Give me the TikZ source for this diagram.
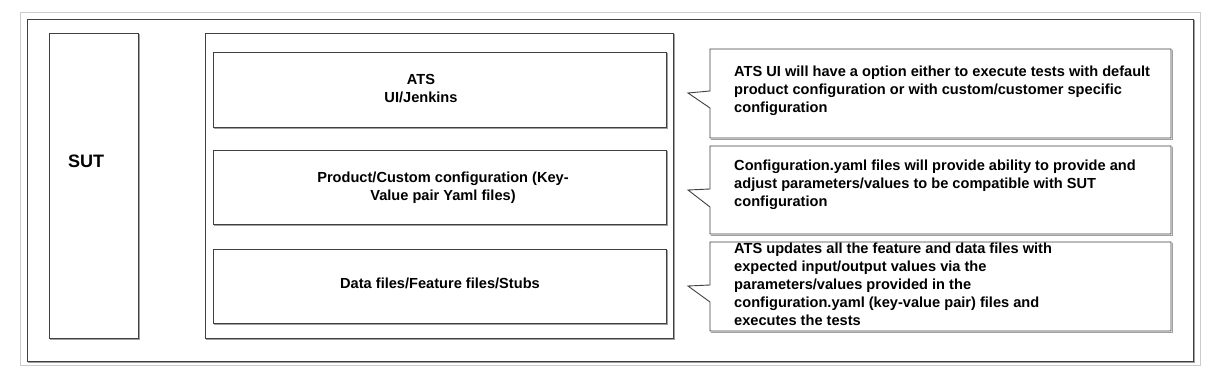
\documentclass[tikz,border=0pt]{standalone}
\usepackage{fontspec}
\setmainfont{Liberation Sans}
\usetikzlibrary{fit}
\definecolor{edgec}{HTML}{404040}
\definecolor{shadc}{HTML}{A0A0A0}
\definecolor{framec}{HTML}{CCCCCC}
\tikzset{
  box/.style={draw=edgec, line width=0.9pt, inner sep=0pt, fill=none},
  shad/.style={draw=shadc, line width=0.9pt},
  calloutline/.style={draw=edgec, line width=0.9pt, line join=miter},
  txt/.style={font=\fontsize{14.6}{18}\selectfont\bfseries, inner sep=0pt, text=black},
  bigtxt/.style={font=\fontsize{18}{22}\selectfont\bfseries, inner sep=0pt, text=black}
}
\newcommand{\boxshadow}[1]{%
  \draw[shad] ([shift={(1.2,1.2)}]#1.north east) -- ([shift={(1.2,1.2)}]#1.south east) -- ([shift={(1.2,1.2)}]#1.south west);}
\begin{document}
\begin{tikzpicture}[x=1pt,y=-1pt]
\useasboundingbox (0,0) rectangle (1230,387);
\fill[white] (0,0) rectangle (1230,387);
% outer frames
\node[draw=framec, line width=0.9pt, inner sep=0pt, fit={(20,12) (1200,365)}] (outer) {};
\node[box, fit={(27,19) (1193,361)}] (frame) {};
\boxshadow{frame}
% SUT
\node[box, fit={(49,33) (138,338)}] (sut) {};
\boxshadow{sut}
\node[bigtxt, anchor=base west] (suttxt) at (68,168) {SUT};
% container
\node[box, fit={(205,33) (673,338)}] (cont) {};
\boxshadow{cont}
\node[box, fit={(213,52) (666,127)}] (ats) {};
\boxshadow{ats}
\node[box, fit={(213,150) (666,224)}] (prod) {};
\boxshadow{prod}
\node[box, fit={(213,249) (666,323)}] (data) {};
\boxshadow{data}
\node[txt, align=center, anchor=base] (atstxt) at (421,103) {ATS\\UI/Jenkins};
\node[txt, align=center, anchor=base] (prodtxt) at (443,201) {Product/Custom configuration (Key-\\Value pair Yaml files)};
\node[txt, align=center, anchor=base] (datatxt) at (440,288) {Data files/Feature files/Stubs};
% callouts
\draw[shad] (1172.2,50) -- (1172.2,139.2) -- (711,139.2);
\draw[calloutline] (710,49) -- (1171,49) -- (1171,138) -- (710,138) -- (710,108) -- (688,93) -- (710,91) -- cycle;
\draw[shad] (1172.2,147) -- (1172.2,235.2) -- (711,235.2);
\draw[calloutline] (710,146) -- (1171,146) -- (1171,234) -- (710,234) -- (710,207) -- (688,190) -- (710,189) -- cycle;
\draw[shad] (1172.2,243) -- (1172.2,332.2) -- (711,332.2);
\draw[calloutline] (710,242) -- (1171,242) -- (1171,331) -- (710,331) -- (710,302) -- (688,286) -- (710,285) -- cycle;
\node[txt, align=left, anchor=base west] (c1) at (734,113) {ATS UI will have a option either to execute tests with default\\product configuration or with custom/customer specific\\configuration};
\node[txt, align=left, anchor=base west] (c2) at (734,207) {Configuration.yaml files will provide ability to provide and\\adjust parameters/values to be compatible with SUT\\configuration};
\node[txt, align=left, anchor=base west] (c3) at (734,325) {ATS updates all the feature and data files with\\expected input/output values via the\\parameters/values provided in the\\configuration.yaml (key-value pair) files and\\executes the tests};
\end{tikzpicture}
\end{document}
